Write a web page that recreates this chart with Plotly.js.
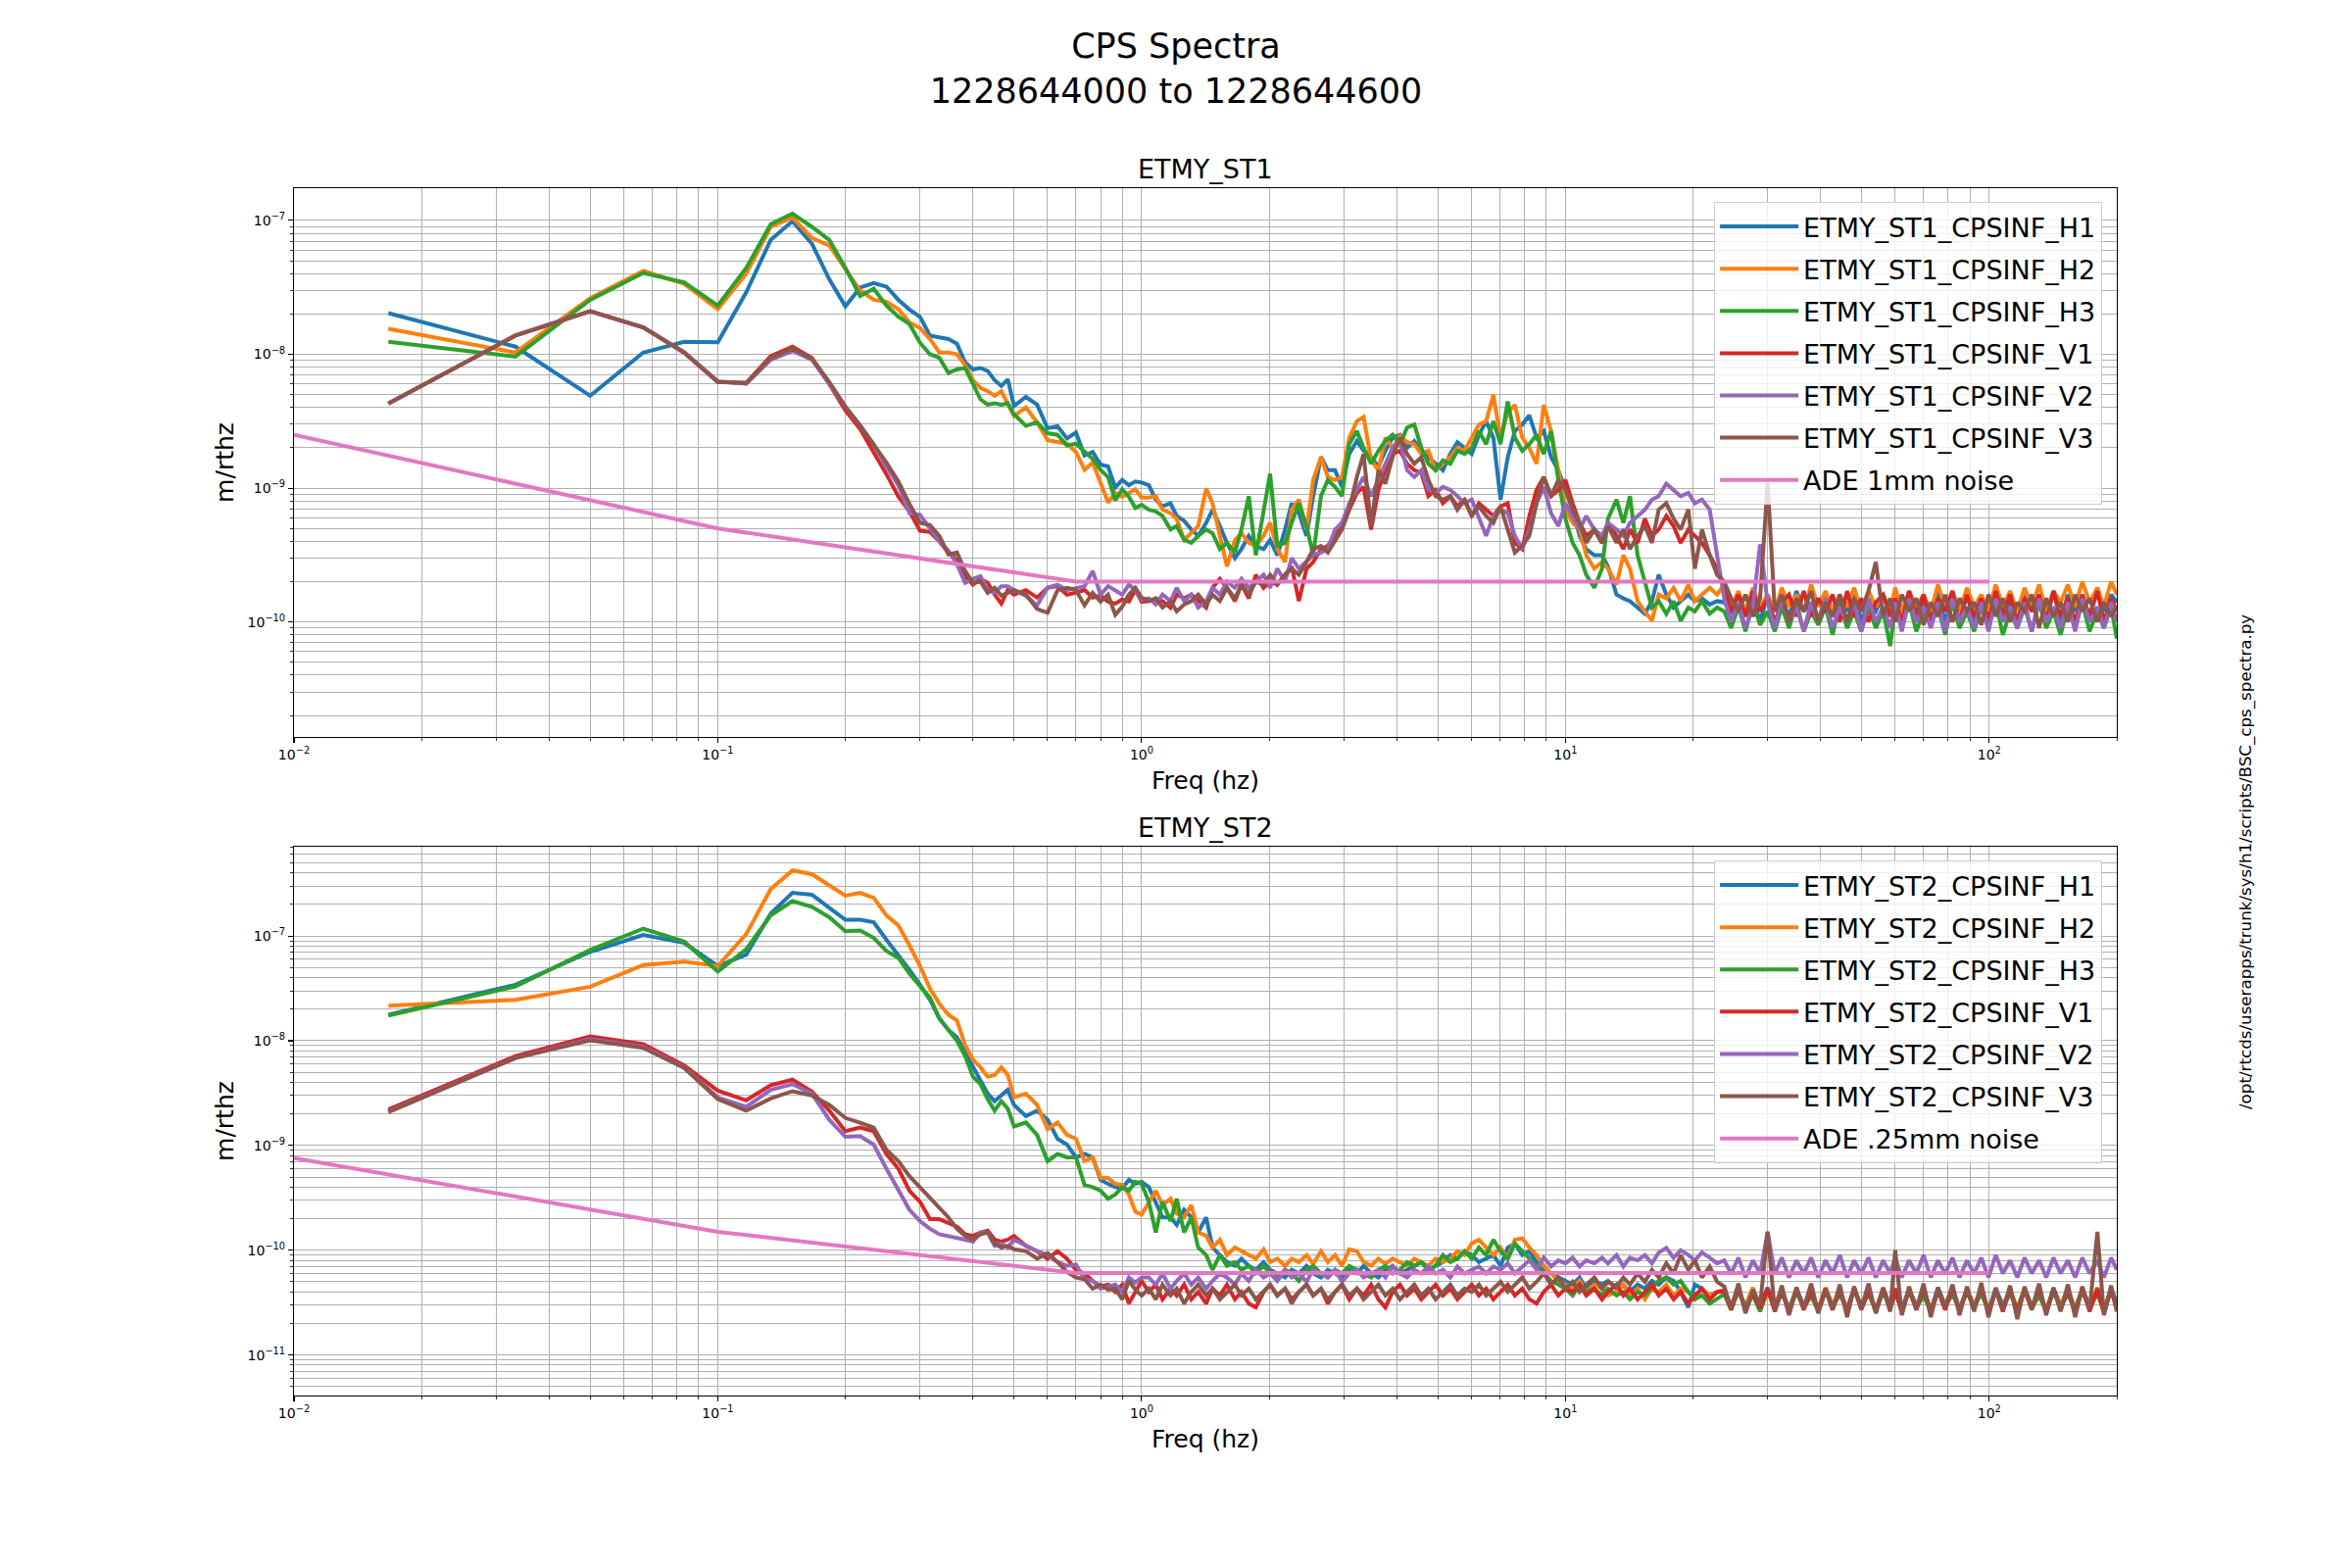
<!DOCTYPE html>
<html>
<head>
<meta charset="utf-8">
<script src="https://cdn.plot.ly/plotly-3.0.1.min.js"></script>
<style>
  html, body { margin: 0; padding: 0; background: #fff; }
  #chart { width: 2400px; height: 1600px; }
</style>
</head>
<body>
<div id="chart"></div>
<script>
// ── Data: amplitude spectra, in units of 1e-10 m/rtHz ──
const UNIT = 1e-10;

const FREQ = [
  0.0167, 0.0333, 0.05, 0.0667, 0.0833, 0.1, 0.1167, 0.1333, 0.15,
  0.1667, 0.1833, 0.2, 0.2167, 0.2333, 0.25, 0.2667, 0.2833, 0.3,
  0.3167, 0.3333, 0.35, 0.3667, 0.3833, 0.4, 0.4167, 0.4333, 0.45,
  0.4667, 0.4833, 0.5, 0.5333, 0.5667, 0.6, 0.6333, 0.6667, 0.7,
  0.7333, 0.7667, 0.8, 0.8333, 0.8667, 0.9, 0.9333, 0.9667, 1.0,
  1.04, 1.08, 1.12, 1.17, 1.21, 1.26, 1.31, 1.36,
  1.42, 1.47, 1.53, 1.59, 1.66, 1.72, 1.79, 1.86,
  1.94, 2.01, 2.09, 2.18, 2.26, 2.35, 2.45, 2.54,
  2.65, 2.75, 2.86, 2.97, 3.09, 3.22, 3.34, 3.48,
  3.62, 3.76, 3.91, 4.07, 4.23, 4.4, 4.57, 4.75,
  4.94, 5.14, 5.35, 5.56, 5.78, 6.01, 6.25, 6.5,
  6.76, 7.03, 7.31, 7.6, 7.91, 8.22, 8.55, 8.89,
  9.25, 9.62, 10.0, 10.4, 10.8, 11.2, 11.7, 12.2,
  12.6, 13.2, 13.7, 14.2, 14.8, 15.4, 16.0, 16.6,
  17.3, 18.0, 18.7, 19.5, 20.2, 21.0, 21.9, 22.8,
  23.7, 24.6, 25.6, 26.6, 27.7, 28.8, 30.0, 31.2,
  32.4, 33.7, 35.1, 36.5, 38.0, 39.5, 41.1, 42.7,
  44.4, 46.2, 48.0, 49.9, 51.9, 54.0, 56.2, 58.4,
  60.0, 62.2, 64.7, 67.3, 70.0, 72.8, 75.7, 78.7,
  81.9, 85.1, 88.6, 92.1, 95.8, 99.6, 103.6, 107.7,
  112.0, 116.5, 121.2, 126.0, 131.1, 136.3, 141.8, 147.4,
  153.3, 159.5, 165.8, 172.5, 180.0, 186.5, 193.9, 200.0
];

// ETMY_ST1
const ST1_H1 = [
  203, 114, 49, 103, 124, 123, 290, 715, 986,
  670, 363, 228, 315, 340, 320, 255, 216, 190,
  138, 134, 130, 120, 87, 77, 79, 75, 64,
  58, 65, 41, 48, 42, 28, 29, 23.5, 26,
  17.5, 18.6, 15, 14.5, 10.1, 11.5, 10.5, 11.2, 11,
  10.5, 8.2, 7.3, 7.7, 6.2, 5.7, 4.9, 4.4,
  5.5, 6.9, 5.2, 3.9, 3.0, 3.5, 4.4, 3.7,
  3.5, 4.1, 3.15, 4.9, 7.7, 6.5, 4.4, 8.7,
  17.1, 13.6, 13.6, 10.2, 18, 22.5, 19, 17.1,
  14.4, 19, 23.8, 25, 20, 22.5, 19, 17,
  15.2, 13.6, 18, 22, 20, 18, 25, 31.6,
  23.8, 8.2, 17, 26.7, 29.8, 35, 23.8, 26.7,
  17, 13.6, 9.7, 6.9, 4.4, 3.5, 3.15, 3.15,
  2.6, 1.6, 1.5, 1.43, 1.28, 1.15, 1.43, 2.25,
  1.6, 1.28, 1.43, 1.6, 1.43, 1.5, 1.35, 1.43,
  1.4, 1.2, 1.6, 1.1, 1.5, 1.0, 1.6, 1.2,
  1.5, 1.1, 1.7, 1.2, 1.4, 1.0, 1.6, 1.1,
  1.5, 1.2, 1.7, 1.0, 1.4, 1.2, 1.6, 1.1,
  1.5, 1.0, 1.6, 1.2, 1.4, 1.1, 1.7, 1.0,
  1.5, 1.2, 1.6, 1.0, 1.5, 1.1, 1.7, 1.2,
  1.4, 1.0, 1.6, 1.2, 1.5, 1.1, 1.7, 1.0,
  1.6, 1.2, 1.5, 1.1, 1.8, 1.2, 1.6, 1.4
];
const ST1_H2 = [
  155, 103, 263, 419, 336, 217, 400, 895, 1052,
  738, 649, 427, 299, 255, 247, 217, 173, 157,
  130, 103, 103, 100, 83, 64, 56, 53, 49,
  53, 43, 34.6, 40, 31, 22.8, 22, 21.5, 18.6,
  13.7, 15.6, 11.2, 7.8, 9.2, 8.6, 9.2, 9.8, 8.5,
  8.5, 8.7, 6.9, 6.5, 5.9, 4.1, 4.6, 5.2,
  9.9, 7.7, 4.4, 2.6, 4.1, 4.6, 3.9, 3.7,
  4.4, 5.5, 3.5, 2.8, 6.9, 8.2, 4.9, 11.5,
  17, 12.1, 11.5, 12.1, 23.8, 31.6, 34, 16.1,
  13.6, 23.8, 20, 24.5, 22, 21.3, 18, 19,
  13.6, 15.2, 17, 20, 19, 23.8, 29.8, 31.6,
  49.6, 23.8, 37, 41.8, 23.8, 20, 15.2, 41.8,
  26.7, 13.6, 6.9, 5.5, 4.9, 3.15, 2.5, 2.8,
  2.5, 1.9, 3.15, 2.5, 1.43, 1.2, 1.02, 1.6,
  1.5, 1.8, 1.43, 1.9, 1.43, 1.6, 1.8, 1.6,
  1.9, 1.3, 1.7, 1.2, 1.8, 1.3, 1.6, 1.2,
  1.8, 1.3, 1.6, 1.2, 1.9, 1.3, 1.7, 1.2,
  1.6, 1.3, 1.8, 1.2, 1.7, 1.3, 1.6, 1.2,
  1.8, 1.2, 1.7, 1.3, 1.6, 1.2, 1.9, 1.3,
  1.7, 1.2, 1.8, 1.3, 1.6, 1.2, 1.9, 1.3,
  1.7, 1.2, 1.8, 1.3, 1.9, 1.2, 1.7, 1.4,
  1.9, 1.3, 2.0, 1.4, 1.8, 1.3, 2.0, 1.6
];
const ST1_H3 = [
  124, 96, 255, 405, 345, 231, 441, 937, 1123,
  895, 715, 441, 272, 309, 231, 191, 168, 122,
  100, 94, 72.6, 77, 79, 60, 46, 42, 43,
  42, 43, 35.6, 29.2, 31, 25.7, 25, 20.8, 21.5,
  18.6, 16.5, 13.7, 12.1, 8.1, 9.8, 8.6, 7.1, 7.5,
  6.9, 6.7, 6.2, 4.9, 5.2, 4.1, 3.9, 4.4,
  4.9, 4.6, 3.5, 3.9, 3.3, 4.9, 8.7, 3.15,
  6.5, 12.8, 3.7, 3.9, 5.5, 7.7, 5.2, 3.15,
  8.7, 11.5, 10.2, 8.7, 21.3, 26.7, 20, 15.2,
  19, 22.5, 25, 21.3, 28.3, 29.8, 20, 15.2,
  13.6, 16.1, 15.2, 19, 18, 20, 26.7, 21.3,
  31.6, 21.3, 44.4, 23.8, 19, 21.3, 25, 18,
  26.7, 11.5, 5.9, 3.9, 3.15, 2.25, 1.8, 2.5,
  5.9, 8.2, 5.5, 8.7, 3.15, 2.0, 1.28, 1.43,
  1.15, 1.43, 1.02, 1.28, 1.2, 1.43, 1.15, 1.28,
  1.2, 0.9, 1.3, 0.85, 1.4, 0.95, 1.2, 0.85,
  1.3, 0.9, 1.4, 0.85, 1.2, 0.95, 1.3, 0.8,
  1.4, 0.9, 1.2, 0.85, 1.3, 0.9, 1.2, 0.66,
  1.3, 0.9, 1.4, 0.85, 1.2, 0.95, 1.3, 0.8,
  1.4, 0.9, 1.2, 0.85, 1.3, 0.95, 1.4, 0.8,
  1.2, 0.9, 1.3, 0.85, 1.4, 0.9, 1.2, 0.8,
  1.3, 0.9, 1.4, 0.85, 1.2, 0.9, 1.3, 0.75
];
const ST1_V1 = [
  42.8, 138, 210, 159, 103, 62, 61, 97, 114,
  94, 60, 38, 27.6, 18.6, 12.7, 8.65, 6.7, 4.8,
  4.7, 4.0, 3.3, 2.9, 2.2, 1.9, 2.1, 1.96, 1.6,
  1.37, 1.73, 1.6, 1.73, 1.52, 1.8, 1.85, 1.6, 1.65,
  1.73, 1.52, 1.57, 1.42, 1.37, 1.47, 1.42, 1.73, 1.42,
  1.43, 1.5, 1.43, 1.28, 1.6, 1.5, 1.6, 1.43,
  1.28, 1.8, 2.1, 1.8, 1.43, 1.9, 1.5, 2.25,
  1.8, 2.0, 1.9, 2.25, 2.6, 1.43, 2.5, 2.8,
  3.5, 3.7, 4.4, 5.5, 6.9, 9.2, 10.2, 4.9,
  9.7, 13.6, 18, 19, 15.2, 13.6, 13, 8.7,
  9.7, 7.7, 8.7, 7.3, 8.2, 6.2, 7.7, 6.9,
  6.2, 7.3, 7.7, 3.9, 3.5, 6.2, 9.7, 12.1,
  8.7, 9.7, 11.5, 7.7, 5.5, 4.4, 4.9, 3.9,
  5.5, 4.4, 3.5, 4.9, 3.9, 5.9, 4.4, 4.9,
  6.2, 5.2, 3.9, 4.9, 4.4, 3.9, 3.15, 2.5,
  1.8, 1.2, 1.6, 1.1, 1.7, 1.2, 1.5, 1.0,
  1.4, 1.6, 1.1, 1.7, 1.1, 1.5, 1.2, 1.6,
  1.0, 1.7, 1.1, 1.5, 1.0, 1.4, 1.6, 1.1,
  1.5, 1.0, 1.7, 1.1, 1.6, 1.0, 1.5, 1.2,
  1.7, 1.0, 1.6, 1.1, 1.5, 1.0, 1.7, 1.1,
  1.6, 1.0, 1.5, 1.2, 1.6, 1.0, 1.7, 1.1,
  1.5, 1.0, 1.6, 1.1, 1.7, 1.0, 1.5, 1.2
];
const ST1_V2 = [
  42.8, 138, 210, 159, 103, 63, 60, 91, 106,
  91, 60, 40.6, 29.4, 21.2, 14.5, 10.5, 6.5, 6.3,
  5.0, 4.0, 3.4, 2.7, 1.96, 2.1, 2.2, 1.73, 1.65,
  1.85, 1.85, 1.73, 1.57, 1.33, 1.8, 1.9, 1.73, 1.8,
  1.85, 2.4, 1.6, 1.85, 1.73, 1.6, 1.9, 1.73, 1.47,
  1.5, 1.35, 1.6, 1.43, 1.8, 1.43, 1.6, 1.28,
  1.43, 1.8, 1.6, 2.0, 1.8, 2.1, 1.8, 2.0,
  2.25, 1.8, 2.5, 2.0, 3.0, 2.5, 2.8, 3.15,
  3.3, 3.5, 4.9, 5.5, 7.7, 9.7, 12.1, 8.7,
  11.5, 15.2, 20, 22.5, 13.6, 12.1, 13.6, 9.7,
  9.2, 10.2, 9.7, 8.7, 7.7, 8.2, 5.9, 4.4,
  6.2, 6.9, 6.5, 4.4, 3.5, 4.9, 7.7, 10.2,
  6.5, 5.2, 7.7, 6.2, 4.9, 6.2, 4.9, 4.4,
  5.5, 4.9, 4.4, 5.5, 6.2, 6.9, 8.2, 8.7,
  10.8, 9.7, 8.7, 9.2, 7.7, 8.2, 6.9, 3.15,
  1.5, 1.0, 1.4, 0.9, 1.3, 3.8, 1.4, 0.9,
  1.5, 1.0, 1.3, 0.85, 1.4, 1.0, 1.5, 0.9,
  1.3, 1.0, 1.4, 0.85, 1.5, 1.0, 1.3, 0.9,
  1.4, 0.85, 1.5, 1.0, 1.3, 0.9, 1.4, 0.85,
  1.5, 1.0, 1.3, 0.9, 1.4, 0.85, 1.5, 1.0,
  1.3, 0.9, 1.4, 0.85, 1.5, 1.0, 1.3, 0.9,
  1.4, 0.85, 1.5, 1.0, 1.3, 0.9, 1.4, 1.0
];
const ST1_V3 = [
  42.8, 138, 210, 159, 103, 62, 61, 94, 110,
  93, 62, 40.6, 29.4, 21.2, 15.5, 11.2, 7.6, 5.5,
  5.3, 4.4, 3.2, 3.3, 2.4, 1.96, 2.0, 1.65, 1.8,
  1.57, 1.65, 1.73, 1.6, 1.25, 1.17, 1.73, 1.8, 1.73,
  1.33, 1.65, 1.42, 1.6, 1.13, 1.3, 1.6, 1.8, 1.52,
  1.43, 1.5, 1.28, 1.43, 1.2, 1.35, 1.43, 1.6,
  1.35, 1.6, 1.43, 1.8, 1.5, 1.9, 1.6, 2.0,
  1.9, 2.25, 1.9, 2.25, 2.5, 2.25, 2.8, 3.5,
  3.7, 3.3, 4.1, 4.9, 6.9, 12.1, 18, 5.2,
  13.6, 10.8, 17, 23.8, 18, 15.2, 17, 11.5,
  8.7, 8.2, 8.7, 6.9, 8.2, 6.2, 7.3, 6.2,
  5.5, 7.3, 4.9, 3.3, 3.7, 4.4, 7.7, 12.1,
  8.7, 11.5, 9.7, 6.9, 5.5, 3.9, 4.9, 3.9,
  5.2, 3.9, 4.9, 3.5, 4.4, 5.2, 3.9, 6.9,
  7.7, 5.9, 4.9, 6.9, 2.5, 4.9, 3.15, 2.25,
  2.0, 1.5, 1.2, 1.6, 1.1, 1.5, 11, 1.2,
  1.6, 1.0, 1.5, 1.2, 1.7, 1.0, 1.4, 1.1,
  1.6, 1.0, 1.5, 1.2, 1.7, 2.8, 1.1, 1.5,
  1.0, 1.6, 1.2, 1.5, 0.95, 1.4, 1.1, 1.6,
  1.0, 1.5, 1.2, 1.4, 0.95, 1.6, 1.1, 1.5,
  1.0, 1.4, 1.2, 1.6, 0.9, 1.5, 1.1, 1.4,
  1.0, 1.6, 1.2, 1.5, 1.0, 1.4, 1.1, 1.3
];

// ETMY_ST2
const ST2_H1 = [
  177, 342, 706, 1025, 861, 517, 662, 1640, 2580,
  2478, 1854, 1430, 1430, 1356, 921, 662, 476, 342,
  246, 163, 127, 108, 77.5, 55.7, 40.1, 31.3, 26.5,
  30, 34, 24.4, 19.1, 21.5, 17.6, 11.6, 10.2, 7.7,
  8.3, 7.7, 4.7, 4.3, 4.0, 3.9, 4.7, 4.3, 4.5,
  4.0, 2.9, 2.06, 2.06, 1.75, 2.43, 2.06, 1.48,
  2.06, 1.06, 0.9, 0.77, 0.71, 0.83, 0.71, 0.65,
  0.77, 0.65, 0.6, 0.55, 0.65, 0.6, 0.71, 0.6,
  0.55, 0.65, 0.6, 0.55, 0.65, 0.6, 0.71, 0.6,
  0.55, 0.65, 0.71, 0.6, 0.65, 0.71, 0.77, 0.65,
  0.71, 0.77, 0.9, 0.83, 0.98, 0.9, 0.77, 0.83,
  0.9, 0.71, 1.06, 1.16, 0.9, 0.98, 0.77, 0.65,
  0.6, 0.55, 0.51, 0.47, 0.55, 0.43, 0.51, 0.47,
  0.51, 0.43, 0.47, 0.4, 0.47, 0.43, 0.51, 0.47,
  0.55, 0.51, 0.4, 0.285, 0.47, 0.43, 0.37, 0.4,
  0.4, 0.3, 0.42, 0.28, 0.38, 0.3, 0.44, 0.29,
  0.4, 0.28, 0.42, 0.3, 0.38, 0.27, 0.43, 0.3,
  0.39, 0.28, 0.42, 0.3, 0.4, 0.27, 0.43, 0.3,
  0.4, 0.28, 0.42, 0.3, 0.38, 0.27, 0.44, 0.3,
  0.4, 0.28, 0.42, 0.3, 0.39, 0.27, 0.43, 0.3,
  0.4, 0.28, 0.42, 0.3, 0.38, 0.27, 0.43, 0.3,
  0.4, 0.28, 0.42, 0.3, 0.39, 0.27, 0.43, 0.32
];
const ST2_H2 = [
  216, 246, 328, 529, 570, 517, 1042, 2800, 4227,
  3896, 3043, 2432, 2580, 2316, 1574, 1260, 813, 517,
  315, 226, 177, 156, 91, 66, 55.7, 45.4, 47,
  55.7, 47, 28.8, 31.3, 24.4, 14.3, 16.6, 12.6, 11.6,
  7.1, 7.7, 4.9, 4.9, 4.3, 4.2, 3.4, 2.33, 2.2,
  2.9, 3.7, 2.7, 3.1, 2.24, 2.06, 2.7, 1.48,
  1.37, 1.06, 1.26, 0.9, 1.06, 0.98, 0.9, 0.83,
  1.02, 0.77, 0.83, 0.71, 0.83, 0.77, 0.9, 0.74,
  0.98, 0.77, 0.9, 0.71, 1.02, 0.98, 0.77, 0.71,
  0.83, 0.74, 0.83, 0.77, 0.71, 0.83, 0.77, 0.71,
  0.83, 0.77, 0.83, 0.98, 0.9, 1.16, 1.26, 1.06,
  0.9, 1.06, 0.83, 1.26, 1.3, 1.06, 0.9, 0.71,
  0.6, 0.51, 0.47, 0.43, 0.51, 0.4, 0.47, 0.43,
  0.37, 0.4, 0.47, 0.37, 0.43, 0.34, 0.43, 0.4,
  0.47, 0.37, 0.43, 0.4, 0.34, 0.43, 0.37, 0.4,
  0.42, 0.29, 0.4, 0.3, 0.44, 0.28, 0.39, 0.3,
  0.43, 0.27, 0.41, 0.29, 0.4, 0.28, 0.44, 0.3,
  0.41, 0.28, 0.43, 0.29, 0.39, 0.27, 0.42, 0.3,
  0.43, 0.28, 0.4, 0.29, 0.42, 0.27, 0.41, 0.3,
  0.44, 0.28, 0.4, 0.3, 0.43, 0.27, 0.41, 0.29,
  0.42, 0.28, 0.44, 0.29, 0.4, 0.27, 0.42, 0.3,
  0.43, 0.28, 0.41, 0.29, 0.44, 0.27, 0.4, 0.31
];
const ST2_H3 = [
  174, 330, 736, 1178, 883, 457, 748, 1574, 2155,
  1903, 1510, 1112, 1130, 959, 718, 619, 438, 328,
  257, 163, 127, 100, 71.4, 45.4, 38.5, 27.7, 21.5,
  26.5, 22.5, 15.2, 16.6, 12.6, 7.1, 8.3, 7.7, 7.7,
  4.2, 4.0, 3.7, 3.1, 3.4, 4.0, 3.7, 4.5, 4.3,
  2.9, 1.48, 2.9, 1.9, 3.1, 1.48, 2.06, 1.06,
  0.9, 0.65, 0.9, 0.71, 0.77, 0.65, 0.71, 0.6,
  0.71, 0.6, 0.55, 0.65, 0.6, 0.51, 0.65, 0.71,
  0.6, 0.55, 0.65, 0.6, 0.71, 0.65, 0.6, 0.55,
  0.65, 0.71, 0.6, 0.65, 0.77, 0.71, 0.77, 0.65,
  0.71, 0.9, 0.77, 0.83, 0.98, 0.83, 1.06, 0.9,
  1.26, 0.98, 0.83, 1.16, 0.98, 0.83, 0.71, 0.6,
  0.51, 0.47, 0.43, 0.37, 0.47, 0.4, 0.43, 0.37,
  0.43, 0.37, 0.4, 0.34, 0.4, 0.37, 0.43, 0.51,
  0.55, 0.47, 0.51, 0.4, 0.34, 0.37, 0.31, 0.34,
  0.38, 0.27, 0.41, 0.29, 0.37, 0.26, 0.42, 0.28,
  0.39, 0.27, 0.4, 0.28, 0.37, 0.26, 0.41, 0.29,
  0.38, 0.27, 0.42, 0.28, 0.39, 0.26, 0.4, 0.28,
  0.39, 0.27, 0.41, 0.28, 0.37, 0.26, 0.42, 0.29,
  0.38, 0.27, 0.4, 0.29, 0.39, 0.26, 0.41, 0.28,
  0.39, 0.27, 0.42, 0.28, 0.37, 0.26, 0.4, 0.29,
  0.38, 0.27, 0.41, 0.28, 0.39, 0.26, 0.42, 0.3
];
const ST2_V1 = [
  22.1, 71.4, 110, 93, 58, 33.4, 27, 37.6, 42.5,
  32.7, 21.5, 13.7, 14.8, 13.7, 8.3, 6.0, 3.7, 2.9,
  1.98, 1.98, 1.82, 1.68, 1.42, 1.37, 1.48, 1.54, 1.26,
  1.21, 1.26, 1.37, 1.1, 0.98, 0.83, 0.98, 0.83, 0.65,
  0.6, 0.51, 0.45, 0.47, 0.4, 0.47, 0.31, 0.4, 0.51,
  0.4, 0.47, 0.34, 0.43, 0.37, 0.47, 0.34, 0.4,
  0.31, 0.43, 0.37, 0.47, 0.34, 0.4, 0.31, 0.285,
  0.4, 0.47, 0.37, 0.43, 0.34, 0.4, 0.47, 0.37,
  0.43, 0.31, 0.4, 0.47, 0.34, 0.43, 0.37, 0.47,
  0.34, 0.285, 0.4, 0.47, 0.37, 0.43, 0.34, 0.4,
  0.47, 0.37, 0.43, 0.34, 0.4, 0.47, 0.37, 0.43,
  0.34, 0.4, 0.47, 0.37, 0.43, 0.34, 0.31, 0.4,
  0.47, 0.37, 0.43, 0.4, 0.47, 0.37, 0.43, 0.34,
  0.4, 0.47, 0.37, 0.43, 0.34, 0.4, 0.47, 0.37,
  0.43, 0.34, 0.4, 0.31, 0.37, 0.43, 0.34, 0.4,
  0.41, 0.27, 0.44, 0.26, 0.4, 0.28, 0.43, 0.26,
  0.42, 0.25, 0.44, 0.27, 0.41, 0.26, 0.43, 0.27,
  0.42, 0.25, 0.45, 0.27, 0.41, 0.26, 0.44, 0.27,
  0.43, 0.25, 0.42, 0.27, 0.44, 0.25, 0.41, 0.27,
  0.43, 0.26, 0.42, 0.27, 0.45, 0.25, 0.42, 0.26,
  0.43, 0.25, 0.42, 0.27, 0.44, 0.25, 0.43, 0.27,
  0.42, 0.25, 0.44, 0.26, 0.43, 0.25, 0.42, 0.27
];
const ST2_V2 = [
  21.1, 68.5, 104, 87.7, 55.7, 28.8, 23.4, 34, 38.5,
  31.3, 17.6, 12.1, 12.3, 10.2, 6.0, 3.7, 2.43, 1.9,
  1.6, 1.42, 1.37, 1.31, 1.26, 1.21, 1.48, 1.48, 1.1,
  1.16, 1.06, 1.26, 1.1, 0.98, 0.9, 0.77, 0.71, 0.73,
  0.53, 0.51, 0.43, 0.45, 0.47, 0.4, 0.55, 0.49, 0.55,
  0.55, 0.47, 0.6, 0.43, 0.51, 0.6, 0.47, 0.55,
  0.43, 0.51, 0.6, 0.55, 0.47, 0.6, 0.51, 0.65,
  0.55, 0.6, 0.51, 0.65, 0.55, 0.6, 0.5, 0.65,
  0.6, 0.55, 0.65, 0.5, 0.6, 0.65, 0.55, 0.6,
  0.65, 0.55, 0.7, 0.6, 0.55, 0.65, 0.6, 0.7,
  0.6, 0.65, 0.55, 0.7, 0.6, 0.65, 0.7, 0.6,
  0.7, 0.65, 0.75, 0.6, 0.7, 0.8, 0.65, 0.85,
  0.7, 0.8, 0.75, 0.85, 0.7, 0.8, 0.75, 0.85,
  0.75, 0.9, 0.7, 0.85, 0.8, 0.9, 0.75, 0.95,
  1.05, 0.85, 1.0, 0.9, 0.8, 0.95, 0.85, 0.75,
  0.8, 0.6, 0.85, 0.55, 0.8, 0.6, 1.5, 0.6,
  0.85, 0.55, 0.8, 0.6, 0.85, 0.55, 0.8, 0.6,
  0.9, 0.55, 0.8, 0.6, 0.85, 0.55, 0.8, 0.6,
  0.85, 0.55, 0.8, 0.6, 0.9, 0.55, 0.8, 0.6,
  0.85, 0.55, 0.8, 0.6, 0.85, 0.55, 0.9, 0.6,
  0.8, 0.55, 0.85, 0.6, 0.8, 0.55, 0.85, 0.6,
  0.8, 0.55, 0.85, 0.6, 0.8, 0.55, 0.85, 0.65
];
const ST2_V3 = [
  20.8, 68.5, 101, 85.7, 55, 27.7, 21.5, 28.1, 33,
  30, 24.4, 18.3, 16.5, 14.8, 9.1, 7.1, 5.1, 4.0,
  3.1, 2.5, 2.06, 1.6, 1.37, 1.26, 1.42, 1.48, 1.16,
  1.06, 1.1, 1.02, 0.98, 0.83, 0.94, 0.77, 0.62, 0.55,
  0.53, 0.43, 0.47, 0.42, 0.43, 0.34, 0.51, 0.42, 0.37,
  0.43, 0.34, 0.47, 0.37, 0.43, 0.31, 0.4, 0.47,
  0.37, 0.43, 0.34, 0.4, 0.47, 0.37, 0.43, 0.34,
  0.4, 0.47, 0.37, 0.43, 0.31, 0.4, 0.47, 0.37,
  0.43, 0.34, 0.4, 0.47, 0.37, 0.43, 0.34, 0.4,
  0.47, 0.37, 0.43, 0.34, 0.4, 0.47, 0.37, 0.43,
  0.34, 0.4, 0.47, 0.37, 0.43, 0.4, 0.47, 0.37,
  0.43, 0.5, 0.4, 0.47, 0.55, 0.43, 0.5, 0.6,
  0.47, 0.55, 0.43, 0.5, 0.4, 0.47, 0.55, 0.43,
  0.5, 0.45, 0.55, 0.47, 0.6, 0.5, 0.65, 0.55,
  0.75, 0.6, 0.9, 0.65, 0.8, 0.55, 0.7, 0.5,
  0.45, 0.28, 0.48, 0.25, 0.42, 0.3, 1.5, 0.26,
  0.46, 0.24, 0.44, 0.28, 0.48, 0.25, 0.42, 0.27,
  0.47, 0.23, 0.44, 0.28, 0.48, 0.25, 0.43, 0.26,
  1.0, 0.24, 0.45, 0.27, 0.48, 0.23, 0.44, 0.28,
  0.47, 0.24, 0.45, 0.26, 0.49, 0.23, 0.44, 0.27,
  0.46, 0.22, 0.45, 0.27, 0.48, 0.24, 0.44, 0.26,
  0.47, 0.23, 0.45, 0.27, 1.5, 0.24, 0.46, 0.26
];

// ADE reference noise curves
const ADE_FREQ  = [0.01, 0.1, 0.7, 100];
const ADE_1MM   = [25, 5, 2, 2];
const ADE_025MM = [7.6, 1.5, 0.606, 0.606];

// Axis ticks
const X_TICKS  = [0.01, 0.1, 1, 10, 100];
const X_LABELS = ['10<sup>−2</sup>', '10<sup>−1</sup>', '10<sup>0</sup>', '10<sup>1</sup>', '10<sup>2</sup>'];
const Y1_TICKS  = [1e-10, 1e-9, 1e-8, 1e-7];
const Y1_LABELS = ['10<sup>−10</sup>', '10<sup>−9</sup>', '10<sup>−8</sup>', '10<sup>−7</sup>'];
const Y2_TICKS  = [1e-11, 1e-10, 1e-9, 1e-8, 1e-7];
const Y2_LABELS = ['10<sup>−11</sup>', '10<sup>−10</sup>', '10<sup>−9</sup>', '10<sup>−8</sup>', '10<sup>−7</sup>'];

// ── Style ────────────────────────────────────────────────────
const COLORS = ['#1f77b4', '#ff7f0e', '#2ca02c', '#d62728', '#9467bd', '#8c564b', '#e377c2'];
const FONT = 'DejaVu Sans, sans-serif';
const GRID = '#b0b0b0';

function minorTicks(lo, hi) {
  const out = [];
  for (let e = lo; e < hi; e++) for (let m = 2; m <= 9; m++) out.push(m * Math.pow(10, e));
  return out;
}

function logAxis(range, tickvals, ticktext, minors, extra) {
  return Object.assign({
    type: 'log', range, autorange: false,
    tickmode: 'array', tickvals, ticktext,
    ticks: 'outside', ticklen: 5, tickwidth: 1.1, tickcolor: '#000',
    showline: true, mirror: true, linecolor: '#000', linewidth: 1.1,
    showgrid: true, gridcolor: GRID, gridwidth: 1, zeroline: false,
    tickfont: { size: 14, color: '#000', family: FONT },
    minor: {
      tickmode: 'array', tickvals: minors,
      ticks: 'outside', ticklen: 3, tickwidth: 0.8, tickcolor: '#000',
      showgrid: true, gridcolor: GRID, gridwidth: 1,
    },
  }, extra);
}

function line(name, x, vals, color, ax, legend) {
  return {
    type: 'scatter', mode: 'lines', name,
    x, y: vals.map(v => v * UNIT),
    line: { color, width: 4 },
    xaxis: 'x' + ax, yaxis: 'y' + ax,
    legend, legendgroup: name,
    hoverinfo: 'skip',
  };
}

const ST1 = [ST1_H1, ST1_H2, ST1_H3, ST1_V1, ST1_V2, ST1_V3];
const ST2 = [ST2_H1, ST2_H2, ST2_H3, ST2_V1, ST2_V2, ST2_V3];
const CHANNELS = ['H1', 'H2', 'H3', 'V1', 'V2', 'V3'];

[...ST1, ...ST2].forEach((a, i) => {
  if (a.length !== FREQ.length) console.error('length mismatch', i, a.length, FREQ.length);
});

const traces = [];
CHANNELS.forEach((c, i) => traces.push(line('ETMY_ST1_CPSINF_' + c, FREQ, ST1[i], COLORS[i], '', 'legend')));
traces.push(line('ADE 1mm noise', ADE_FREQ, ADE_1MM, COLORS[6], '', 'legend'));
CHANNELS.forEach((c, i) => traces.push(line('ETMY_ST2_CPSINF_' + c, FREQ, ST2[i], COLORS[i], '2', 'legend2')));
traces.push(line('ADE .25mm noise', ADE_FREQ, ADE_025MM, COLORS[6], '2', 'legend2'));

const legendBase = {
  xanchor: 'right', yanchor: 'top', x: 0.992,
  bgcolor: 'rgba(255,255,255,0.8)', bordercolor: '#cccccc', borderwidth: 1,
  font: { size: 27, color: '#000', family: FONT },
  traceorder: 'grouped', tracegroupgap: 5, itemwidth: 80,
};

const xTitle = { text: 'Freq (hz)', font: { size: 25, color: '#000', family: FONT }, standoff: 10 };
const yTitle = { text: 'm/rthz', font: { size: 25, color: '#000', family: FONT }, standoff: 6 };

const layout = {
  width: 2400, height: 1600,
  paper_bgcolor: '#fff', plot_bgcolor: '#fff',
  font: { family: FONT, color: '#000' },
  margin: { l: 300, r: 240, t: 192, b: 176 },
  showlegend: true,
  title: {
    text: 'CPS Spectra<br>1228644000 to 1228644600',
    font: { size: 35, color: '#000', family: FONT },
    x: 0.5, xref: 'container', xanchor: 'center',
    y: 0.963, yref: 'container', yanchor: 'top',
  },
  xaxis:  logAxis([-2, 2.30103], X_TICKS, X_LABELS, minorTicks(-2, 3), { anchor: 'y', domain: [0, 1], title: xTitle }),
  yaxis:  logAxis([-10.859, -6.759], Y1_TICKS, Y1_LABELS, minorTicks(-11, -6), { anchor: 'x', domain: [0.5455, 1], title: yTitle }),
  xaxis2: logAxis([-2, 2.30103], X_TICKS, X_LABELS, minorTicks(-2, 3), { anchor: 'y2', domain: [0, 1], title: xTitle }),
  yaxis2: logAxis([-11.387, -6.148], Y2_TICKS, Y2_LABELS, minorTicks(-12, -6), { anchor: 'x2', domain: [0, 0.4545], title: yTitle }),
  legend:  Object.assign({ y: 0.9886 }, legendBase),
  legend2: Object.assign({ y: 0.4432 }, legendBase),
  annotations: [
    { text: 'ETMY_ST1', xref: 'paper', yref: 'paper', x: 0.5, y: 1, xanchor: 'center', yanchor: 'bottom',
      yshift: 2, showarrow: false, font: { size: 27, color: '#000', family: FONT } },
    { text: 'ETMY_ST2', xref: 'paper', yref: 'paper', x: 0.5, y: 0.4545, xanchor: 'center', yanchor: 'bottom',
      yshift: 2, showarrow: false, font: { size: 27, color: '#000', family: FONT } },
    { text: '/opt/rtcds/userapps/trunk/sys/h1/scripts/BSC_cps_spectra.py', xref: 'paper', yref: 'paper',
      x: 1.071, y: 0.4416, xanchor: 'center', yanchor: 'middle', textangle: -90,
      showarrow: false, font: { size: 16.7, color: '#000', family: FONT } },
  ],
};

Plotly.newPlot('chart', traces, layout, { displayModeBar: false, staticPlot: true });
</script>
</body>
</html>
